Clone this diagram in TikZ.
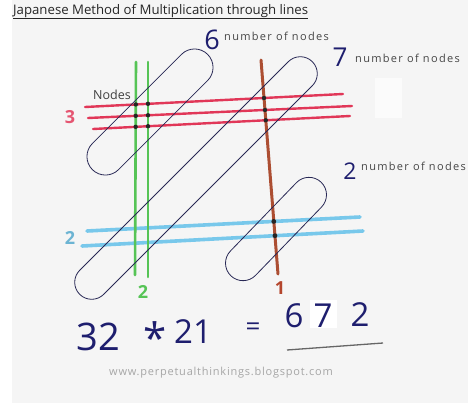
\documentclass[tikz,border=0pt]{standalone}
\usepackage{fontspec}
\setmainfont{Open Sans}
\usetikzlibrary{positioning}

\definecolor{paper}{RGB}{245,245,245}
\definecolor{ink}{RGB}{30,30,110}
\definecolor{loopink}{RGB}{40,40,85}
\definecolor{redline}{RGB}{225,55,88}
\definecolor{greenline}{RGB}{86,196,86}
\definecolor{brownline}{RGB}{172,78,50}
\definecolor{blueline}{RGB}{120,200,235}
\definecolor{labelgray}{RGB}{70,70,70}

\tikzset{
	redstick/.style={redline, line width=2.4pt, line cap=round},
	greenstick/.style={greenline, line width=2.6pt, line cap=round},
	brownstick/.style={brownline, line width=3pt, line cap=round},
	bluestick/.style={blueline, line width=3.6pt, line cap=round},
	looping/.style={draw=loopink, line width=0.8pt, inner sep=0pt, rectangle},
	dot/.style={fill=black!85},
	hand/.style={text=ink, inner sep=0pt},
	count/.style={font=\fontsize{11}{11}\selectfont\addfontfeature{LetterSpace=12}, text=labelgray, anchor=west, inner sep=0pt},
	digit/.style={font=\fontsize{18}{18}\selectfont\bfseries, inner sep=0pt}
}

\begin{document}
\begin{tikzpicture}[x=1pt, y=-1pt]
	\useasboundingbox (0,0) rectangle (474,416);
	\fill[white] (0,0) rectangle (474,416);
	\fill[paper] (12,0) rectangle (468,403);
	\fill[paper!40!white] (375,78) rectangle (402,118);

	\node[anchor=base west, inner sep=0pt, font=\fontsize{13.2}{14}\selectfont, text=black!85] (title) at (13,14) {\underline{Japanese Method of Multiplication through lines}};

	\coordinate (red1-w) at (85,107);
	\coordinate (red1-e) at (343,94);
	\coordinate (red2-w) at (88,118);
	\coordinate (red2-e) at (352,106);
	\coordinate (red3-w) at (93,129);
	\coordinate (red3-e) at (350,116);
	\coordinate (green1-n) at (136,62);
	\coordinate (green1-s) at (135,275);
	\coordinate (green2-n) at (148,62);
	\coordinate (green2-s) at (148,277);
	\coordinate (brown-n) at (261,60);
	\coordinate (brown-s) at (278,274);
	\coordinate (blue1-w) at (87,231);
	\coordinate (blue1-e) at (360,217);
	\coordinate (blue2-w) at (82,246);
	\coordinate (blue2-e) at (363,231);

	\draw[redstick] (red1-w) -- (red1-e);
	\draw[redstick] (red2-w) -- (red2-e);
	\draw[redstick] (red3-w) -- (red3-e);
	\draw[bluestick] (blue1-w) -- (blue1-e);
	\draw[bluestick] (blue2-w) -- (blue2-e);
	\draw[greenstick] (green1-n) -- (green1-s);
	\draw[greenstick] (green2-n) -- (green2-s);
	\draw[brownstick] (brown-n) -- (brown-s);

	\node[looping, minimum width=163pt, minimum height=37pt, rounded corners=18.5pt, rotate=45] (loopA) at (150,112) {};
	\node[looping, minimum width=329pt, minimum height=34pt, rounded corners=17pt, rotate=45] (loopB) at (196,178) {};
	\node[looping, minimum width=130pt, minimum height=35pt, rounded corners=17.5pt, rotate=46] (loopC) at (276,229) {};

	\foreach \r in {1,2,3} {
		\foreach \g in {1,2}
			\fill[dot] (intersection of red\r-w--red\r-e and green\g-n--green\g-s) circle (2.2);
		\fill[dot] (intersection of red\r-w--red\r-e and brown-n--brown-s) circle (2.2);
	}
	\foreach \b in {1,2}
		\fill[dot] (intersection of blue\b-w--blue\b-e and brown-n--brown-s) circle (2.4);

	\node[font=\fontsize{12.5}{13}\selectfont, text=black!75, inner sep=0pt] (nodes) at (112,95) {Nodes};

	\node[digit, text=redline!85!white] (three) at (70,117) {3};
	\node[digit, text=blueline!90!black] (twoblue) at (70,238) {2};
	\node[digit, text=greenline] (twogreen) at (143,292) {2};
	\node[digit, text=brownline!90!red] (one) at (280,288) {1};

	\node[hand, font=\fontsize{27}{27}\selectfont] (six) at (212,40) {6};
	\node[count] at (224,36) {number of nodes};
	\node[count] at (355,58) {number of nodes};
	\node[hand, font=\fontsize{26}{26}\selectfont] (seven) at (340,57) {7};
	\node[hand, font=\fontsize{23}{23}\selectfont] (two) at (350,171) {2};
	\node[count] at (361,166) {number of nodes};

	\node[hand, font=\fontsize{38}{38}\selectfont] (left) at (98,337) {32};
	\node[hand, font=\fontsize{42}{42}\selectfont] (star) at (155,338) {*};
	\node[hand, font=\fontsize{33}{33}\selectfont] (right) at (193,332) {21};
	\node[hand, font=\fontsize{26}{26}\selectfont] (equals) at (253,329) {=};
	\fill[white] (310,300) rectangle (337,328);
	\node[hand, font=\fontsize{33}{33}\selectfont] (res6) at (294,316) {6};
	\node[hand, font=\fontsize{33}{33}\selectfont] (res7) at (323,316) {7};
	\node[hand, font=\fontsize{33}{33}\selectfont] (res2) at (360,315) {2};
	\draw[black!60, line width=1.3pt] (287,350) -- (383,343);

	\node[font=\fontsize{11}{11}\selectfont\addfontfeature{LetterSpace=7}, text=black!35, inner sep=0pt] (site) at (221,373) {www.perpetualthinkings.blogspot.com};
\end{tikzpicture}
\end{document}
